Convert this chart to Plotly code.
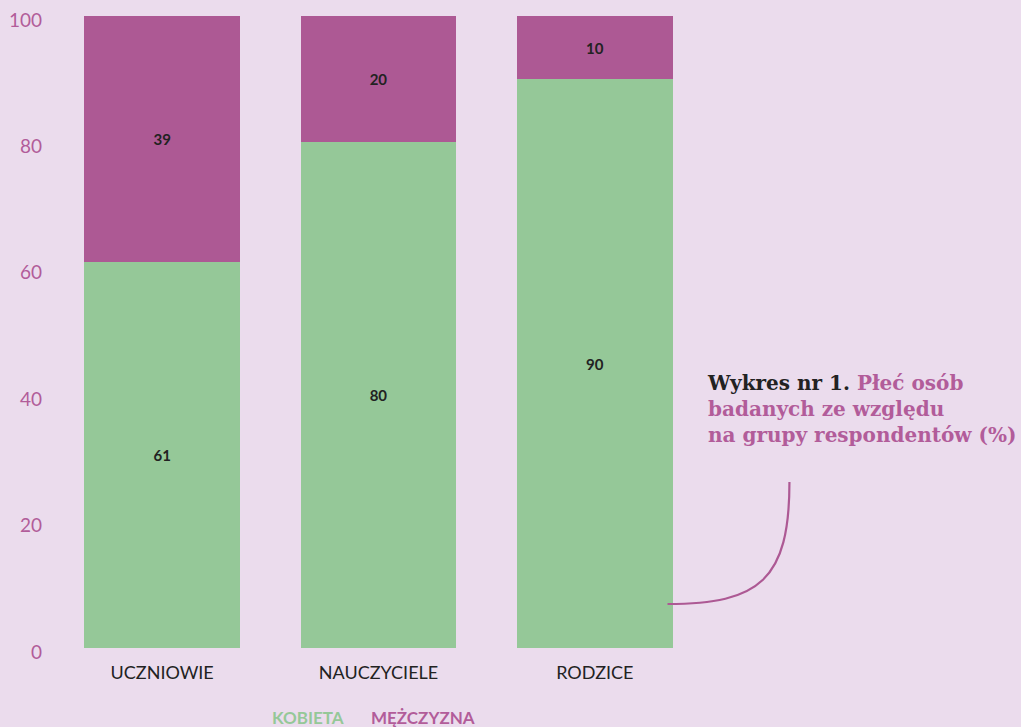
import plotly.graph_objects as go

categories = ["UCZNIOWIE", "NAUCZYCIELE", "RODZICE"]
kobieta = [61, 80, 90]
mezczyzna = [39, 20, 10]
y_ticks = [0, 20, 40, 60, 80, 100]

GREEN = "#95C898"
PURPLE = "#AD5994"
BG = "#EBDCED"
TICK = "#B25C9A"
DARK = "#222222"

fig = go.Figure()
fig.add_trace(go.Bar(x=categories, y=kobieta, name="KOBIETA", marker=dict(color=GREEN, line=dict(width=0)),
                     texttemplate="<b>%{y}</b>", textposition="inside", insidetextanchor="middle",
                     textfont=dict(color=DARK, size=15, family="Lato"), hoverinfo="skip", showlegend=False))
fig.add_trace(go.Bar(x=categories, y=mezczyzna, name="MĘŻCZYZNA", marker=dict(color=PURPLE, line=dict(width=0)),
                     texttemplate="<b>%{y}</b>", textposition="inside", insidetextanchor="middle",
                     textfont=dict(color=DARK, size=15, family="Lato"), hoverinfo="skip", showlegend=False))

fig.update_layout(
    barmode="stack",
    bargap=0.28,
    width=1021, height=727,
    margin=dict(l=54, r=318, t=16, b=79, autoexpand=False),
    paper_bgcolor=BG, plot_bgcolor=BG,
    font=dict(family="Lato", color=DARK),
    uniformtext=dict(minsize=8, mode="show"),
    xaxis=dict(showgrid=False, zeroline=False, showline=False, ticks="", automargin=False,
               tickfont=dict(size=18, color=DARK, family="Lato"), ticklabelstandoff=12),
    yaxis=dict(range=[0, 100], tickvals=y_ticks, showgrid=False, zeroline=False, showline=False,
               ticks="", automargin=False, tickfont=dict(size=19, color=TICK, family="Lato"),
               ticklabelstandoff=11, ticklabelshift=4),
    annotations=[
        dict(xref="paper", yref="paper", x=(706 - 54) / 649.5, y=(648 - 369) / 632, xanchor="left", yanchor="top",
             align="left", showarrow=False,
             text=("<b>Wykres nr 1. <span style='color:%s'>Płeć osób</span></b><br>"
                   "<b><span style='color:%s'>badanych ze względu</span></b><br>"
                   "<b><span style='color:%s'>na grupy respondentów (%%)</span></b>") % (TICK, TICK, TICK),
             font=dict(family="DejaVu Serif", size=20, color=DARK)),
        dict(xref="paper", yref="paper", x=(346 - 54) / 649.5, y=(648 - 717) / 632, xanchor="right", yanchor="middle",
             showarrow=False, text="<b>KOBIETA</b>", font=dict(family="Lato", size=17, color=GREEN)),
        dict(xref="paper", yref="paper", x=(369 - 54) / 649.5, y=(648 - 717) / 632, xanchor="left", yanchor="middle",
             showarrow=False, text="<b>MĘŻCZYZNA</b>", font=dict(family="Lato", size=17, color=TICK)),
    ],
)

def px(x, y):
    return "%.4f,%.4f" % ((x - 54) / 649.5, (648 - y) / 632)

fig.add_shape(type="path", xref="paper", yref="paper",
              path="M %s C %s %s %s" % (px(668, 604), px(760, 604), px(790, 580), px(790, 482)),
              line=dict(color=PURPLE, width=2.2))

fig.write_html("out.html", config={"displayModeBar": False},
               post_script="document.body.style.margin='0';document.body.style.background='%s';"
                           "document.documentElement.style.overflow='hidden';" % BG)
